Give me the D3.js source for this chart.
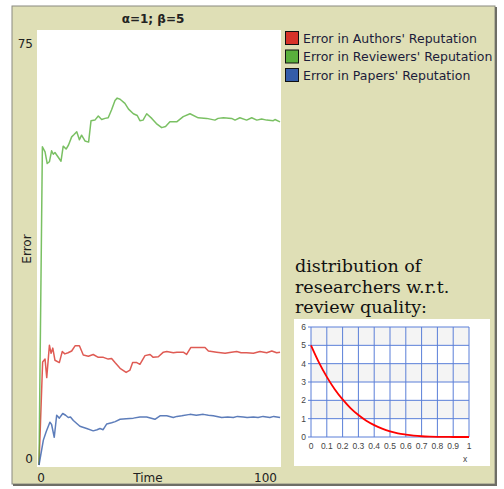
<!DOCTYPE html>
<html>
<head>
<meta charset="utf-8">
<script src="https://cdn.jsdelivr.net/npm/d3@7"></script>
<style>
  html, body { margin: 0; padding: 0; background: #ffffff; }
  svg { display: block; }
</style>
</head>
<body>
<div id="chart"></div>
<script>
// error series as [time, error]
const authorsError = [
  [0, 0], [1.5, 17.8], [2.5, 18.3], [3.2, 15.1], [4.3, 20.7], [5, 19.3], [5.7, 20.2], [6.6, 18.1],
  [8.4, 17.7], [9.6, 19.6], [10.7, 19.2], [12, 19.4], [13.5, 19.7], [14.9, 20.6], [16.7, 20.6],
  [18.3, 19.0], [20.4, 18.8], [22.4, 19.1], [24.5, 18.6], [26.6, 18.6], [28.6, 18.3], [30, 18.4],
  [31.4, 17.7], [33.5, 16.7], [36, 16.0], [37.6, 16.4], [38.7, 17.7], [40.4, 17.7], [41.7, 17.4],
  [43.8, 18.9], [45.9, 19.1], [47.2, 18.6], [49.3, 18.7], [51.4, 19.5], [52.8, 19.6], [55.5, 19.4],
  [57, 19.5], [59.6, 19.5], [61, 19.1], [62.7, 20.3], [68.6, 20.3], [70, 19.7], [73.4, 19.5],
  [76.9, 19.3], [79.5, 19.5], [81.7, 19.6], [83.5, 19.4], [85.8, 19.4], [88.6, 19.3], [91.3, 19.6],
  [94.1, 19.4], [96.2, 19.7], [98.2, 19.4], [99.6, 19.5]
];
const reviewersError = [
  [0, 0], [1.4, 55.0], [2.5, 54.1], [3.4, 52.1], [4.3, 52.4], [5.2, 54.3], [5.9, 53.7], [6.6, 54.0],
  [7.6, 53.4], [9.1, 52.5], [10.0, 55.1], [11.2, 54.6], [12.2, 55.3], [13.5, 56.7], [14.5, 57.1],
  [15.6, 57.6], [16.7, 56.2], [17.6, 57.0], [19, 56.0], [20.5, 55.8], [21.5, 59.5], [23.1, 59.6],
  [24.5, 60.3], [25.9, 59.7], [27.3, 59.9], [28.6, 60.0], [30, 61.4], [31.4, 63.0], [32.3, 63.4],
  [33.5, 63.2], [35.5, 62.5], [37, 61.5], [39, 60.7], [40.6, 60.4], [41.7, 59.5], [43, 59.6],
  [44.5, 60.7], [46.6, 59.9], [48.5, 59.0], [50.7, 58.3], [52.3, 58.5], [54.1, 59.3], [56.9, 59.3],
  [59.6, 60.2], [62.4, 60.7], [65.8, 60.0], [69.3, 59.9], [72.7, 59.6], [74, 59.9], [76.2, 60.0],
  [79.6, 59.9], [81, 59.6], [83, 60.0], [85.8, 59.6], [87.9, 60.0], [90, 59.6], [92, 59.8],
  [94.1, 59.6], [96.8, 59.5], [97.5, 59.7], [99.6, 59.3]
];
const papersError = [
  [0, 0], [1.8, 4.3], [3, 5.8], [4.5, 7.4], [5.2, 7.0], [6.3, 4.8], [7.3, 8.6], [8.4, 8.1],
  [9.8, 8.9], [11, 8.6], [12.1, 8.2], [13, 8.3], [14.2, 7.7], [16.9, 6.7], [19.7, 6.3], [22.4, 5.9],
  [24, 6.1], [25.2, 6.3], [26.5, 6.1], [28, 7.1], [30, 7.3], [31.5, 7.5], [33.5, 7.9], [36, 8.0],
  [39, 8.1], [41.7, 8.3], [44.5, 8.3], [47.9, 7.9], [50, 8.5], [52.8, 8.5], [55.5, 8.2], [57, 8.4],
  [59, 8.5], [62.4, 8.75], [65, 8.6], [67.9, 8.75], [70, 8.6], [72, 8.5], [75.5, 8.2], [78, 8.3],
  [80.3, 8.2], [82, 8.4], [84.4, 8.3], [86, 8.2], [88.6, 8.3], [90.5, 8.2], [92.6, 8.4], [94, 8.3],
  [95.4, 8.2], [97, 8.4], [99.6, 8.2]
];

const seriesNames = ["Error in Authors' Reputation", "Error in Reviewers' Reputation", "Error in Papers' Reputation"];
const seriesColors = ["#d73229", "#59b03c", "#345da9"];
const yTickLabels = ["0", "75"];
const xTickLabels = ["0", "100"];

// inset: density over review quality x
const qualityX = [0, 0.05, 0.1, 0.15, 0.2, 0.25, 0.3, 0.35, 0.4, 0.45, 0.5, 0.55, 0.6, 0.65, 0.7, 0.75, 0.8, 0.85, 0.9, 0.95, 1];
const density = [5, 4.07, 3.28, 2.61, 2.05, 1.58, 1.2, 0.89, 0.65, 0.46, 0.31, 0.2, 0.13, 0.075, 0.04, 0.02, 0.008, 0.003, 0.0005, 0, 0];
const insetXTicks = ["0", "0.1", "0.2", "0.3", "0.4", "0.5", "0.6", "0.7", "0.8", "0.9", "1"];
const insetYTicks = [0, 1, 2, 3, 4, 5, 6];

const width = 504, height = 489;
const svg = d3.select("#chart").append("svg")
    .attr("width", width)
    .attr("height", height);

// beige panel
svg.append("rect")
    .attr("x", 12).attr("y", 6)
    .attr("width", 483).attr("height", 478)
    .attr("fill", "#dfdfb6")
    .attr("stroke", "#8a8a80").attr("stroke-width", 1);
svg.append("path")
    .attr("d", "M496,7 V485 H13")
    .attr("fill", "none").attr("stroke", "#6e6e66").attr("stroke-width", 2);

// plot area
const plot = { left: 37, right: 281, top: 30, bottom: 467 };
svg.append("rect")
    .attr("x", plot.left).attr("y", plot.top)
    .attr("width", plot.right - plot.left).attr("height", plot.bottom - plot.top)
    .attr("fill", "#ffffff");

const x = d3.scaleLinear().domain([0, 100]).range([39, 281]);
const y = d3.scaleLinear().domain([0, 75]).range([465, 31]);

const line = d3.line()
    .x(d => x(d[0]))
    .y(d => y(d[1]));

[authorsError, reviewersError, papersError].forEach((s, i) => {
    svg.append("path")
        .datum(s)
        .attr("fill", "none")
        .attr("stroke", seriesColors[i])
        .attr("stroke-opacity", 0.8)
        .attr("stroke-width", 1.5)
        .attr("stroke-linejoin", "round")
        .attr("d", line);
});

const labelFont = "'DejaVu Sans', sans-serif";

svg.append("text")
    .attr("x", 153).attr("y", 23)
    .attr("text-anchor", "middle")
    .attr("font-family", labelFont).attr("font-size", 12).attr("font-weight", "bold")
    .attr("fill", "#222")
    .text("α=1; β=5");

// y labels (min / max only, like the original)
svg.append("text").attr("x", 33).attr("y", 48).attr("text-anchor", "end")
    .attr("font-family", labelFont).attr("font-size", 12).attr("fill", "#222")
    .text(yTickLabels[1]);
svg.append("text").attr("x", 33).attr("y", 463).attr("text-anchor", "end")
    .attr("font-family", labelFont).attr("font-size", 12).attr("fill", "#222")
    .text(yTickLabels[0]);

svg.append("text").attr("x", 41).attr("y", 482).attr("text-anchor", "middle")
    .attr("font-family", labelFont).attr("font-size", 12).attr("fill", "#222")
    .text(xTickLabels[0]);
svg.append("text").attr("x", 277).attr("y", 482).attr("text-anchor", "end")
    .attr("font-family", labelFont).attr("font-size", 12).attr("fill", "#222")
    .text(xTickLabels[1]);
svg.append("text").attr("x", 148).attr("y", 482).attr("text-anchor", "middle")
    .attr("font-family", labelFont).attr("font-size", 12).attr("fill", "#222")
    .text("Time");
svg.append("text")
    .attr("transform", "translate(31,249) rotate(-90)")
    .attr("text-anchor", "middle")
    .attr("font-family", labelFont).attr("font-size", 12).attr("fill", "#222")
    .text("Error");

// legend
const legend = svg.append("g").attr("transform", "translate(285,31)");
seriesNames.forEach((name, i) => {
    const g = legend.append("g").attr("transform", `translate(0,${i * 18.5})`);
    g.append("rect")
        .attr("x", 0.5).attr("y", 0.5).attr("width", 13).attr("height", 13)
        .attr("fill", seriesColors[i]).attr("stroke", "#111");
    g.append("text")
        .attr("x", 18).attr("y", 11.5)
        .attr("font-family", labelFont).attr("font-size", 12.5)
        .attr("fill", "#1c1c3a")
        .text(name);
});

// inset caption
const caption = ["distribution of", "researchers w.r.t.", "review quality:"];
svg.append("g").selectAll("text")
    .data(caption)
    .join("text")
    .attr("x", 295)
    .attr("y", (d, i) => 272 + i * 20.7)
    .attr("font-family", "'DejaVu Serif', serif")
    .attr("font-size", 17.5)
    .attr("fill", "#111")
    .text(d => d);

// inset chart
svg.append("rect")
    .attr("x", 294).attr("y", 319).attr("width", 196).attr("height", 147)
    .attr("fill", "#ffffff");

const ix = d3.scaleLinear().domain([0, 1]).range([311, 469]);
const iy = d3.scaleLinear().domain([0, 6]).range([437, 327]);

const inset = svg.append("g");
inset.selectAll("rect.band")
    .data([1, 3, 5])
    .join("rect")
    .attr("class", "band")
    .attr("x", ix(0)).attr("width", ix(1) - ix(0))
    .attr("y", d => iy(d + 1)).attr("height", d => iy(d) - iy(d + 1))
    .attr("fill", "#f4f4f4");

inset.selectAll("line.vg")
    .data(insetXTicks.map(Number))
    .join("line")
    .attr("x1", d => ix(d)).attr("x2", d => ix(d))
    .attr("y1", iy(6)).attr("y2", iy(0))
    .attr("stroke", "#5a7fd8").attr("stroke-width", 1);
inset.selectAll("line.hg")
    .data(insetYTicks)
    .join("line")
    .attr("x1", ix(0) - 3).attr("x2", ix(1))
    .attr("y1", d => iy(d)).attr("y2", d => iy(d))
    .attr("stroke", "#5a7fd8").attr("stroke-width", 1);

const tickFont = "'Liberation Sans Narrow', 'Liberation Sans', sans-serif";
inset.selectAll("text.yt")
    .data(insetYTicks)
    .join("text")
    .attr("x", 306).attr("y", d => iy(d) + 3)
    .attr("text-anchor", "end")
    .attr("font-family", tickFont).attr("font-size", 8.5).attr("fill", "#444")
    .text(d => d);
inset.selectAll("text.xt")
    .data(insetXTicks)
    .join("text")
    .attr("x", d => ix(+d)).attr("y", 449)
    .attr("text-anchor", "middle")
    .attr("font-family", tickFont).attr("font-size", 8.5).attr("fill", "#444")
    .text(d => d);
inset.append("text")
    .attr("x", 465).attr("y", 462)
    .attr("text-anchor", "middle")
    .attr("font-family", tickFont).attr("font-size", 8.5).attr("fill", "#444")
    .text("x");

inset.append("path")
    .datum(qualityX.map((q, i) => [q, density[i]]))
    .attr("fill", "none")
    .attr("stroke", "#ff0000")
    .attr("stroke-width", 1.8)
    .attr("d", d3.line().x(d => ix(d[0])).y(d => iy(d[1])).curve(d3.curveMonotoneX));
</script>
</body>
</html>
